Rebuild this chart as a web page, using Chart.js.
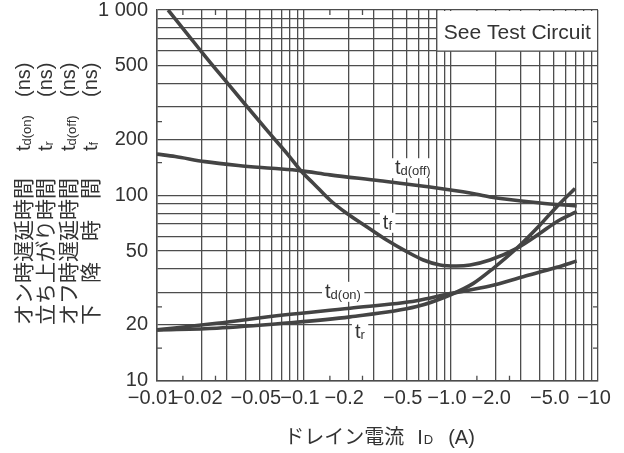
<!DOCTYPE html>
<html>
<head>
<meta charset="utf-8">
<script src="https://cdn.jsdelivr.net/npm/chart.js@4.4.1/dist/chart.umd.min.js"></script>
<style>
  html, body { margin: 0; padding: 0; background: #fff; }
  canvas { display: block; }
</style>
</head>
<body>
<canvas id="c" width="624" height="453"></canvas>
<script>
// |ID| in A (drawn with a minus sign), times in ns
const X_GRID = [0.01, 0.02, 0.03, 0.04, 0.05, 0.06, 0.07, 0.08, 0.09,
  0.1, 0.2, 0.3, 0.4, 0.5, 0.6, 0.7, 0.8, 0.9, 1, 2, 3, 4, 5, 6, 7, 8, 9, 10];
const X_LABELS = { 0.01: '−0.01', 0.02: '−0.02', 0.05: '−0.05', 0.1: '−0.1', 0.2: '−0.2',
  0.5: '−0.5', 1: '−1.0', 2: '−2.0', 5: '−5.0', 10: '−10' };
const Y_GRID = [10, 20, 30, 40, 50, 60, 70, 80, 90,
  100, 200, 300, 400, 500, 600, 700, 800, 900, 1000];
const Y_LABELS = { 10: '10', 20: '20', 50: '50', 100: '100', 200: '200', 500: '500', 1000: '1 000' };
const X_MINOR = [0.015, 0.025, 0.15, 0.25, 1.5, 2.5];
const Y_MINOR = [15, 25, 150, 250];

const tdOffI = [0.01, 0.0133, 0.0212, 0.0357, 0.0603, 0.0939, 0.15, 0.329, 0.72, 1.35, 1.84, 4.03, 7.16];
const tdOffT = [167, 162, 152, 145, 140, 136, 129, 120, 111, 103, 98, 91, 87.6];

const tfI = [0.0119, 0.0163, 0.0201, 0.029, 0.0397, 0.0572, 0.0782, 0.0965, 0.116, 0.15, 0.195,
  0.267, 0.365, 0.5, 0.648, 0.842, 1.09, 1.35, 1.84, 2.8, 4.03, 5.24, 7.16];
const tfT = [1000, 733, 595, 418, 310, 220, 165, 134, 116, 94.4, 80,
  67.7, 57.4, 49.7, 44.8, 42.1, 41.6, 42.1, 44.8, 51.8, 62.4, 72.1, 81.6];

const tdOnI = [0.01, 0.0255, 0.0723, 0.206, 0.584, 0.985, 1.84, 3.1, 5.24, 7.16];
const tdOnT = [18.8, 20.4, 22.6, 24.6, 27.0, 29.5, 32.4, 36.4, 40.9, 44.2];

const trI = [0.01, 0.0255, 0.0723, 0.206, 0.584, 0.985, 1.42, 1.94, 2.8, 4.03, 5.24, 6.98];
const trT = [18.8, 19.2, 20.4, 22.1, 25.1, 29.0, 33.5, 40.4, 51.8, 69.2, 86.9, 109];

const CURVE_NOTES = [
  { sub: 'd(off)', x: 0.416, y: 130 },
  { sub: 'f', x: 0.344, y: 66 },
  { sub: 'd(on)', x: 0.139, y: 28 },
  { sub: 'r', x: 0.222, y: 17 }
];
const Y_TITLE_ROWS = [
  { jp: 'オン時遅延時間', sub: 'd(on)' },
  { jp: '立ち上がり時間', sub: 'r' },
  { jp: 'オフ時遅延時間', sub: 'd(off)' },
  { jp: '下　降　時　間', sub: 'f' }
];
const TEST_BOX = { x: 0.8, y: 600, text: 'See Test Circuit' };

const INK = '#333';
const GRID = '#4d4d4d';
const LATIN = '"Liberation Sans", Arial, sans-serif';
const JP = '"Noto Sans CJK JP", sans-serif';

const pts = (xs, ys) => xs.map((x, i) => ({ x, y: ys[i] }));

function curve(xs, ys) {
  return {
    data: pts(xs, ys),
    borderColor: '#444',
    borderWidth: 3.6,
    pointRadius: 0,
    fill: false,
    cubicInterpolationMode: 'monotone'
  };
}

// t + small subscript, left aligned at (x, baseline)
function symbol(ctx, sub, x, y, big, small) {
  ctx.font = big + 'px ' + LATIN;
  ctx.fillText('t', x, y);
  const w = ctx.measureText('t').width;
  ctx.font = small + 'px ' + LATIN;
  ctx.fillText(sub, x + w, y + 1);
  return w + ctx.measureText(sub).width;
}

const decorations = {
  id: 'decorations',
  beforeDraw(chart) {
    const ctx = chart.ctx;
    ctx.save();
    ctx.fillStyle = '#fff';
    ctx.fillRect(0, 0, chart.width, chart.height);
    ctx.restore();
  },
  beforeDatasetsDraw(chart) {
    const { ctx, chartArea: a, scales: { x, y } } = chart;
    ctx.save();
    // short in-between ticks on all four sides
    ctx.strokeStyle = GRID;
    ctx.lineWidth = 1.3;
    ctx.beginPath();
    X_MINOR.forEach(v => {
      const px = x.getPixelForValue(v);
      ctx.moveTo(px, a.bottom); ctx.lineTo(px, a.bottom - 5);
      ctx.moveTo(px, a.top); ctx.lineTo(px, a.top + 5);
    });
    Y_MINOR.forEach(v => {
      const py = y.getPixelForValue(v);
      ctx.moveTo(a.left, py); ctx.lineTo(a.left + 5, py);
      ctx.moveTo(a.right, py); ctx.lineTo(a.right - 5, py);
    });
    ctx.stroke();

    // test circuit box
    const bx = x.getPixelForValue(TEST_BOX.x);
    const by = y.getPixelForValue(TEST_BOX.y);
    ctx.fillStyle = '#fff';
    ctx.fillRect(bx, a.top + 1, a.right - bx - 1, by - a.top - 1);
    ctx.beginPath();
    ctx.moveTo(bx, a.top); ctx.lineTo(bx, by); ctx.lineTo(a.right, by);
    ctx.stroke();
    ctx.fillStyle = INK;
    ctx.font = '21px ' + LATIN;
    ctx.textAlign = 'center';
    ctx.textBaseline = 'middle';
    ctx.fillText(TEST_BOX.text, (bx + a.right) / 2, (a.top + by) / 2 + 3);

    // curve names with white backing
    ctx.textAlign = 'left';
    ctx.textBaseline = 'alphabetic';
    CURVE_NOTES.forEach(n => {
      const px = x.getPixelForValue(n.x);
      const py = y.getPixelForValue(n.y);
      ctx.font = '13px ' + LATIN;
      const w = 6 + ctx.measureText(n.sub).width;
      ctx.fillStyle = '#fff';
      ctx.fillRect(px - 3, py - 16, w + 6, 20);
      ctx.fillStyle = INK;
      symbol(ctx, n.sub, px, py, 20, 13);
    });
    ctx.restore();
  },
  afterDraw(chart) {
    const { ctx, chartArea: a } = chart;
    ctx.save();
    ctx.fillStyle = INK;
    ctx.textBaseline = 'alphabetic';
    ctx.textAlign = 'left';

    // vertical y title, four columns read bottom to top
    Y_TITLE_ROWS.forEach((row, i) => {
      ctx.save();
      ctx.translate(31 + i * 22.3, 325);
      ctx.rotate(-Math.PI / 2);
      ctx.font = '21px ' + JP;
      ctx.fillText(row.jp, 0, 0);
      symbol(ctx, row.sub, 174, -1, 20, 13);
      ctx.font = '20px ' + LATIN;
      ctx.fillText('(ns)', 228, -1);
      ctx.restore();
    });

    // x title: ドレイン電流  ID  (A)
    const parts = [
      { t: 'ドレイン電流', f: '20px ' + JP, gap: 13 },
      { t: 'I', f: '20px ' + LATIN, gap: 1 },
      { t: 'D', f: '13px ' + LATIN, gap: 15 },
      { t: '(A)', f: '20px ' + LATIN, gap: 0 }
    ];
    let total = 0;
    parts.forEach(p => { ctx.font = p.f; p.w = ctx.measureText(p.t).width; total += p.w + p.gap; });
    let cx = (a.left + a.right) / 2 - total / 2 + 2;
    const base = chart.height - 9;
    parts.forEach(p => {
      ctx.font = p.f;
      ctx.fillText(p.t, cx, base);
      cx += p.w + p.gap;
    });
    ctx.restore();
  }
};

new Chart(document.getElementById('c'), {
  type: 'line',
  data: {
    datasets: [
      curve(tdOffI, tdOffT),
      curve(tfI, tfT),
      curve(tdOnI, tdOnT),
      curve(trI, trT)
    ]
  },
  options: {
    responsive: false,
    animation: false,
    events: [],
    layout: { padding: { top: 10, right: 26, left: 0, bottom: 0 } },
    plugins: { legend: { display: false }, tooltip: { enabled: false } },
    scales: {
      x: {
        type: 'logarithmic',
        min: 0.01,
        max: 10,
        afterBuildTicks: s => { s.ticks = X_GRID.map(v => ({ value: v })); },
        afterFit: s => { s.height = 72.3; s.paddingLeft = 0; s.paddingRight = 0; },
        grid: { color: GRID, lineWidth: 1.3, drawTicks: false },
        border: { color: GRID, width: 1.5 },
        ticks: {
          autoSkip: false,
          maxRotation: 0,
          minRotation: 0,
          padding: 6,
          labelOffset: -4,
          color: INK,
          font: { family: LATIN, size: 20 },
          callback: v => X_LABELS[+v.toPrecision(6)] || ''
        }
      },
      y: {
        type: 'logarithmic',
        min: 10,
        max: 1000,
        afterBuildTicks: s => { s.ticks = Y_GRID.map(v => ({ value: v })); },
        afterFit: s => { s.width = 157; s.paddingTop = 0; s.paddingBottom = 0; },
        grid: { color: GRID, lineWidth: 1.3, drawTicks: false },
        border: { color: GRID, width: 1.5 },
        ticks: {
          autoSkip: false,
          padding: 9,
          color: INK,
          font: { family: LATIN, size: 20 },
          callback: v => Y_LABELS[+v.toPrecision(6)] || ''
        }
      }
    }
  },
  plugins: [decorations]
});
</script>
</body>
</html>
